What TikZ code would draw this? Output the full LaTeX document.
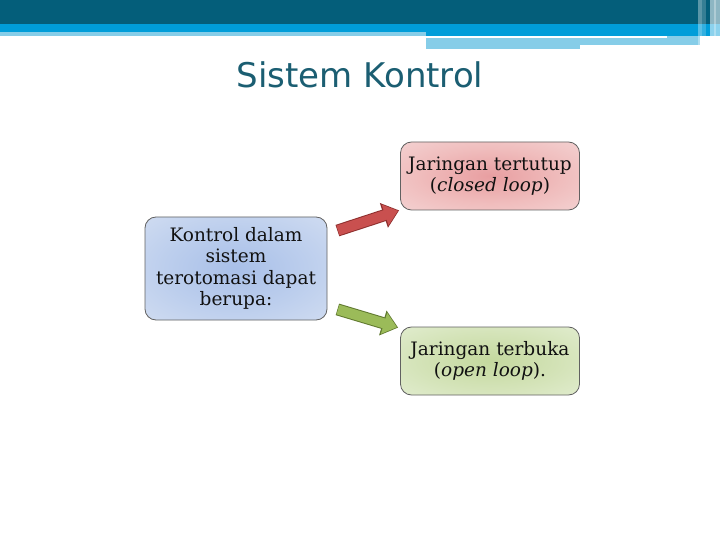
\documentclass[tikz,border=0pt]{standalone}
\usepackage{fontspec}
\newfontfamily\titlefont{DejaVu Sans}
\newfontfamily\boxfont{DejaVu Serif}
\usetikzlibrary{arrows.meta,calc}
\definecolor{hdrdark}{HTML}{045E7A}
\definecolor{hdrblue}{HTML}{009DD9}
\definecolor{hdrlight}{HTML}{86CDE8}
\definecolor{titlecol}{HTML}{1B5E72}
\definecolor{arrRed}{HTML}{C9504F}
\definecolor{arrRedD}{HTML}{8E2F2E}
\definecolor{arrGrn}{HTML}{9BBB59}
\definecolor{arrGrnD}{HTML}{60792F}
\definecolor{textcol}{HTML}{111111}
\pgfdeclareradialshading{blueshade}{\pgfpoint{0bp}{0bp}}{%
  rgb(0bp)=(0.66,0.75,0.91); rgb(20bp)=(0.74,0.81,0.93); rgb(42bp)=(0.84,0.88,0.95); rgb(60bp)=(0.88,0.91,0.97)}
\pgfdeclareradialshading{redshade}{\pgfpoint{0bp}{0bp}}{%
  rgb(0bp)=(0.91,0.62,0.63); rgb(20bp)=(0.94,0.74,0.74); rgb(42bp)=(0.96,0.85,0.85); rgb(60bp)=(0.97,0.89,0.89)}
\pgfdeclareradialshading{grnshade}{\pgfpoint{0bp}{0bp}}{%
  rgb(0bp)=(0.77,0.85,0.62); rgb(20bp)=(0.83,0.89,0.72); rgb(42bp)=(0.90,0.94,0.84); rgb(60bp)=(0.93,0.96,0.88)}
\tikzset{
  boxstyle/.style={draw=black!62, line width=0.8bp, rounded corners=11bp,
    align=center, text=textcol, inner sep=0pt,
    font=\boxfont\fontsize{18.5bp}{21.3bp}\selectfont},
  arrowbase/.style={line width=12bp, -{Triangle[length=15bp,width=24bp]}},
}
\begin{document}
\begin{tikzpicture}[x=1bp,y=-1bp]
\useasboundingbox (0,0) rectangle (720,540);
\fill[white] (0,0) rectangle (720,540);
% header bands
\fill[hdrdark] (0,0) rectangle (720,24);
\fill[hdrblue] (0,24) rectangle (720,32);
\fill[hdrblue] (426,32) rectangle (720,36);
\fill[hdrlight] (0,32) rectangle (426,36);
\fill[hdrlight] (667,36) rectangle (700,39);
\fill[hdrlight] (426,38.5) rectangle (580,49);
\fill[hdrlight] (580,38.5) rectangle (700,45);
% right-hand stripes
\fill[white,opacity=0.35] (698,0) rectangle (702,46);
\fill[white,opacity=0.20] (702,0) rectangle (706,46);
\fill[white,opacity=0.55] (710,0) rectangle (720,48);
\fill[white,opacity=0.30] (714,0) rectangle (716,48);
% title
\node[anchor=base, text=titlecol, font=\titlefont\fontsize{34bp}{40bp}\selectfont, inner sep=0pt] (title) at (360,88) {Sistem Kontrol};
% boxes
\node[boxstyle, minimum width=182bp, minimum height=103bp, shading=blueshade] (lb) at (236,268.5)
  {Kontrol dalam\\sistem\\terotomasi dapat\\berupa:};
\node[boxstyle, minimum width=179bp, minimum height=68bp, shading=redshade] (tr) at (490,176)
  {Jaringan tertutup\\(\textit{closed loop})};
\node[boxstyle, minimum width=179bp, minimum height=68bp, shading=grnshade] (br) at (490,361)
  {Jaringan terbuka\\(\textit{open loop}).};
% arrows
\coordinate (ra) at ($(lb.north east)+(10,14)$);
\coordinate (rb) at ($(tr.south west)+(-1,0)$);
\coordinate (ga) at ($(lb.south east)+(10,-11)$);
\coordinate (gb) at ($(br.north west)+(-2,1)$);
\draw[arrowbase, draw=arrRedD, line width=12bp, -{Triangle[length=16bp,width=25bp]}] (ra) -- (rb);
\draw[arrowbase, draw=arrRed, line width=10bp, -{Triangle[length=13.5bp,width=21bp]}, shorten >=1.2bp] ($(ra)!0.6bp!(rb)$) -- (rb);
\draw[arrowbase, draw=arrGrnD, line width=12bp, -{Triangle[length=16bp,width=25bp]}] (ga) -- (gb);
\draw[arrowbase, draw=arrGrn, line width=10bp, -{Triangle[length=13.5bp,width=21bp]}, shorten >=1.2bp] ($(ga)!0.6bp!(gb)$) -- (gb);
\end{tikzpicture}
\end{document}
